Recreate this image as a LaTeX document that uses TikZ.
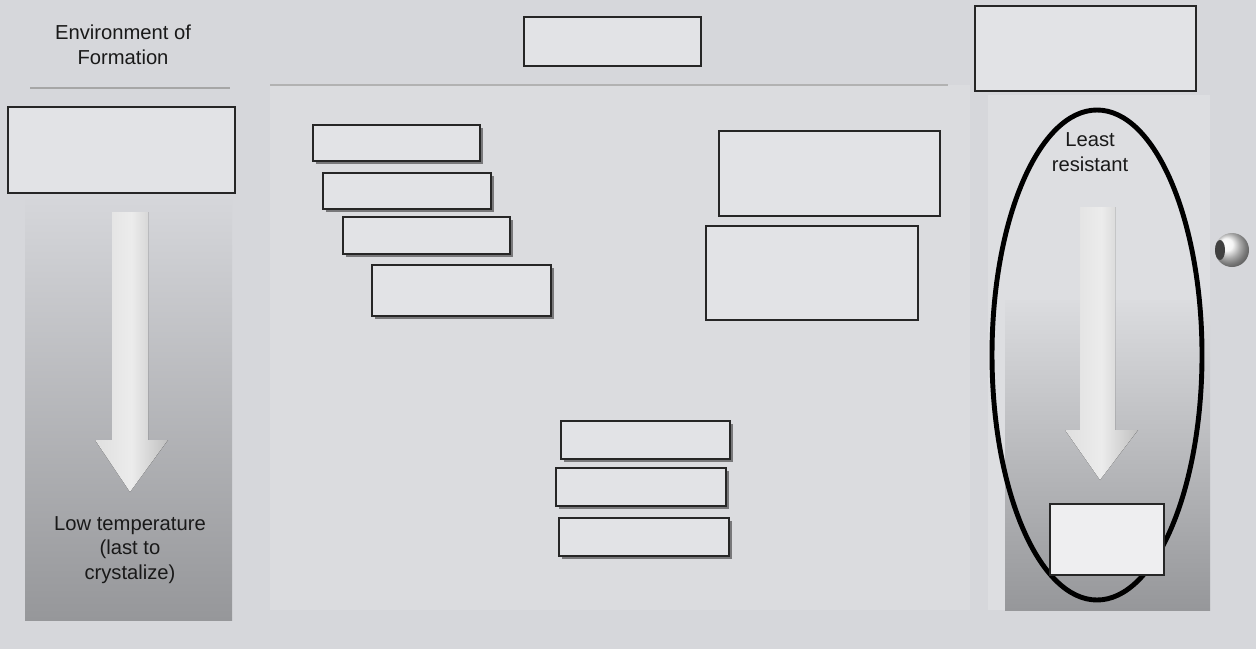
\documentclass[tikz,border=0pt]{standalone}
\usepackage{fontspec}
\setmainfont{Liberation Sans}
\usetikzlibrary{fit,shadows}

\definecolor{paper}{RGB}{214,215,219}
\definecolor{panel}{RGB}{219,220,223}
\definecolor{boxfill}{RGB}{226,227,230}
\definecolor{deep}{RGB}{150,151,154}

\tikzset{
  blank/.style={draw=black!85,thick,fill=boxfill,inner sep=0pt},
  stacked/.style={blank,drop shadow={shadow xshift=1.5pt,shadow yshift=-1.5pt,opacity=.45,fill=black}},
  label/.style={align=center,font=\fontsize{11.5}{14}\selectfont,text=black!90},
  blockarrow/.style={left color=gray!25,right color=gray!50,middle color=gray!15,draw=none}
}

\begin{document}
\begin{tikzpicture}[x=0.02cm,y=-0.02cm]
  \fill[paper] (0,0) rectangle (1256,649);
  \useasboundingbox (0,0) rectangle (1256,649);

  % left column
  \node[label] (env) at (123,45) {Environment of\\Formation};
  \draw[gray!70,thick] (30,88) -- (230,88);
  \shade[top color=paper,bottom color=deep] (25,195) rectangle (232,620);
  \fill[blockarrow] (112,212) -- (148,212) -- (148,440) -- (168,440) -- (130,492)
    -- (95,440) -- (112,440) -- cycle;
  \node[blank,fit={(8,107)(235,193)}] (envbox) {};
  \node[label] (low) at (130,550) {Low temperature\\(last to\\crystalize)};

  % middle panel
  \fill[panel] (270,85) rectangle (970,610);
  \draw[gray!60,thick] (270,85) -- (948,85);
  \node[blank,fit={(524,17)(701,66)}] (topmid) {};
  \node[stacked,fit={(313,125)(480,161)}] (s1) {};
  \node[stacked,fit={(323,173)(491,209)}] (s2) {};
  \node[stacked,fit={(343,217)(510,254)}] (s3) {};
  \node[stacked,fit={(372,265)(551,316)}] (s4) {};
  \node[blank,fit={(719,131)(940,216)}] (r1) {};
  \node[blank,fit={(706,226)(918,320)}] (r2) {};
  \node[stacked,fit={(561,421)(730,459)}] (b1) {};
  \node[stacked,fit={(556,468)(726,506)}] (b2) {};
  \node[stacked,fit={(559,518)(729,556)}] (b3) {};

  % right column
  \node[blank,fit={(975,6)(1196,91)}] (topright) {};
  \fill[panel!95!white] (988,95) rectangle (1210,610);
  \shade[top color=panel,bottom color=deep] (1005,300) rectangle (1210,610);
  \fill[blockarrow] (1080,207) -- (1115,207) -- (1115,430) -- (1138,430) -- (1100,480)
    -- (1065,430) -- (1080,430) -- cycle;
  \draw[line width=2.8pt] (1097,355) ellipse [x radius=105,y radius=245];
  \node[label] (least) at (1090,152) {Least\\resistant};
  \node[blank,fill=white!40!boxfill,fit={(1050,504)(1164,575)}] (bottomright) {};
  \shade[ball color=gray!10] (1232,250) circle (17);
  \fill[black!75] (1220,250) ellipse [x radius=5,y radius=10];
\end{tikzpicture}
\end{document}
